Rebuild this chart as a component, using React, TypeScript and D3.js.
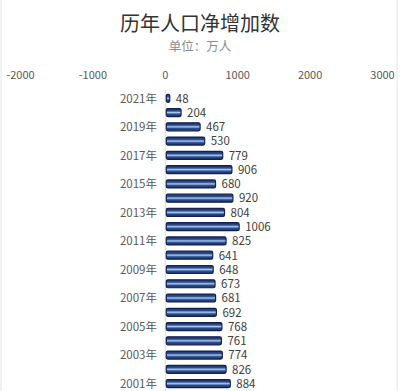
import React from "react";
import * as d3 from "d3";

const years = [2021, 2020, 2019, 2018, 2017, 2016, 2015, 2014, 2013, 2012, 2011, 2010, 2009, 2008, 2007, 2006, 2005, 2004, 2003, 2002, 2001];
const values = [48, 204, 467, 530, 779, 906, 680, 920, 804, 1006, 825, 641, 648, 673, 681, 692, 768, 761, 774, 826, 884];
const xTicks = [-2000, -1000, 0, 1000, 2000, 3000];
const title = "历年人口净增加数";
const subtitle = "单位：万人";

export default function App() {
  const W = 400, H = 391;
  const x = d3.scaleLinear().domain([-2000, 3000]).range([20.5, 382.5]);
  const y = d3.scalePoint<number>().domain(years).range([98.3, 383.6]);
  const bh = 8;
  const font = "'Microsoft YaHei','Noto Sans CJK SC','DejaVu Sans',sans-serif";
  return (
    <div style={{ position: "absolute", left: 0, top: 0 }}>
      <svg width={W} height={H} style={{ display: "block", background: "#fff" }}>
        <defs>
          <linearGradient id="barg" x1="0" y1="0" x2="0" y2="1">
            <stop offset="0" stopColor="#1a2c60" />
            <stop offset="0.3" stopColor="#2c4f90" />
            <stop offset="0.5" stopColor="#a9c8f0" />
            <stop offset="0.7" stopColor="#2c4f90" />
            <stop offset="1" stopColor="#1a2c60" />
          </linearGradient>
        </defs>
        <line x1={1} x2={1} y1={0} y2={H} stroke="#e6e6e6" />
        <line x1={397} x2={397} y1={0} y2={H} stroke="#e6e6e6" />
        <text x={200} y={31} textAnchor="middle" fontFamily={font} fontSize={20} fill="#333">{title}</text>
        <text x={200} y={51} textAnchor="middle" fontFamily={font} fontSize={12.5} fill="#8c8c8c">{subtitle}</text>
        {xTicks.map((t) => (
          <text key={t} x={x(t)} y={79} textAnchor="middle" fontFamily={font} fontSize={11} fill="#595959">{t}</text>
        ))}
        <line x1={x(0)} x2={x(0)} y1={90} y2={391} stroke="#d9d9d9" />
        {years.map((yr, i) => {
          const cy = y(yr)!;
          const v = values[i];
          const w = x(v) - x(0);
          return (
            <g key={yr}>
              {yr % 2 === 1 && (
                <text x={157} y={cy + 4.3} textAnchor="end" fontFamily={font} fontSize={11.5} fill="#595959">{yr}年</text>
              )}
              <rect x={x(0) + 1} y={cy - bh / 2} width={w} height={bh} rx={1.5} fill="url(#barg)" stroke="#15224d" strokeWidth={1.2} />
              <text x={x(v) + 7} y={cy + 4.3} fontFamily={font} fontSize={11.5} fill="#404040">{v}</text>
            </g>
          );
        })}
      </svg>
    </div>
  );
}
